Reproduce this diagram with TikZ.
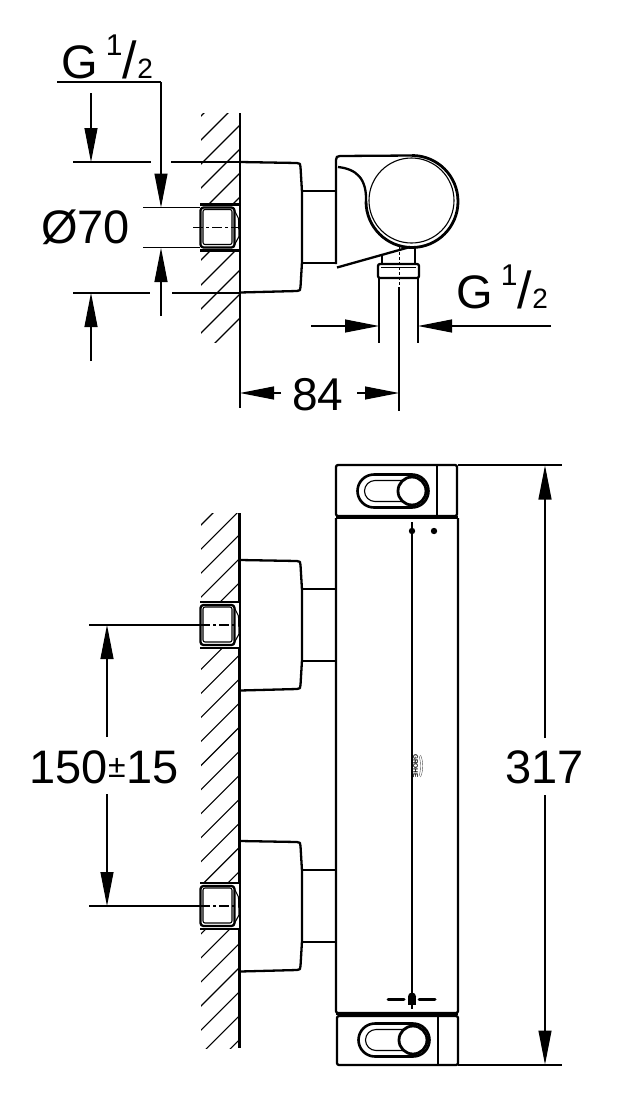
\documentclass[tikz,border=0pt]{standalone}
\usepackage{fontspec}
\setmainfont{Liberation Sans}
\usetikzlibrary{arrows.meta}
\newcommand{\fs}[1]{\fontsize{#1}{#1}\selectfont}
\newcommand{\GThread}{\fs{47}G\hspace{8pt}\raisebox{23pt}{\fs{30}1}\hspace{0.5pt}{\fs{52}/}{\fs{28}2}}
\newcommand{\plugpart}[1]{%
  \begin{scope}[shift={(0,#1)}]
    \fill[white] (200,-23) rectangle (239,23);
    \draw[heavy] (200,-23) -- (239,-23) (200,23) -- (239,23);
    \draw[heavy,rounded corners=3pt] (200.5,-20) rectangle (234.5,20);
    \draw[thinline,rounded corners=2pt] (203,-18) rectangle (232,17);
    \draw[thinline] (233,-20) -- (238.5,-9) -- (239,9) -- (233,20);
  \end{scope}}
\newcommand{\backplate}[1]{%
  \begin{scope}[shift={(0,#1)}]
    \draw[heavy] (240,0) -- (297,1) .. controls (300,1) and (300.5,2) .. (300.5,5)
      -- (302,30) -- (302,100) -- (300.5,125) .. controls (300.5,128) and (300,129) .. (297,129) -- (240,130.5);
    \draw[heavy] (302,29) -- (336,29) (302,101) -- (336,101);
  \end{scope}}
\newcommand{\slotpart}[2]{%
  \begin{scope}[shift={(#1,#2)}]
    \draw[line width=2.6pt] (0,-16.5) -- (-38,-16.5) arc[start angle=270,end angle=90,radius=16.5] -- (0,16.5) arc[start angle=90,end angle=-90,radius=16.5];
    \draw[thinline] (0,-10.5) -- (-37,-10.5) arc[start angle=270,end angle=90,radius=10.5] -- (-5,10.5);
    \draw[line width=2.8pt,fill=white] (0,0) circle[radius=14];
  \end{scope}}
\tikzset{
  heavy/.style={line width=2.3pt,black,line join=round},
  thinline/.style={line width=1.1pt,black,line join=round},
  dimline/.style={line width=1.1pt,black},
  arrowline/.style={dimline,-{Stealth[length=34pt,width=13pt,inset=0pt]}},
  centreline/.style={line width=1.1pt,black,dash pattern=on 10pt off 3pt on 3pt off 3pt},
  label/.style={inner sep=0pt,anchor=base west,text=black},
}
\begin{document}
\begin{tikzpicture}[x=1pt,y=-1pt]
\useasboundingbox (0,0) rectangle (616,1100);
\fill[white] (0,0) rectangle (616,1100);

% ---------- hatching
\begin{scope}
  \clip (201,113) rectangle (239,342);
  \foreach \s in {317,341,365,389,413,437,461,486,510,534,558}
    \draw[thinline] (200,\s-200) -- (240,\s-240);
\end{scope}
\begin{scope}
  \clip (201,513) rectangle (239,1048);
  \foreach \k in {0,...,23}
    \draw[thinline] (200,726+24.05*\k-200) -- (240,726+24.05*\k-240);
\end{scope}

% ---------- TOP VIEW
\draw[line width=2.4pt] (240,113) -- (240,342);
\draw[dimline] (240,342) -- (240,408);
\plugpart{227.5}
\draw[centreline] (193,227.5) -- (239,227.5);
\backplate{162}

% handle
\draw[heavy] (336,264) -- (336,160) .. controls (336,157) and (337,156) .. (340,156) -- (412,155.5);
\draw[heavy] (338,167) .. controls (356,169) and (367,178) .. (366,202);
\draw[line width=2.8pt] (412,155.5) arc[start angle=270,end angle=540,radius=46];
\draw[thinline] (411.5,200.5) circle[radius=42.5];
\draw[heavy] (337,267.5) -- (410,247);
% neck and nut
\draw[heavy] (382,256) -- (382,263) (415,247) -- (415,263);
\draw[heavy,rounded corners=2pt] (378,264) rectangle (419,278);
\draw[thinline] (381,267.5) -- (416,267.5);

% top-view dimensions
\draw[dimline] (57,82) -- (161,82);
\draw[arrowline] (161,82) -- (161,207.5);
\draw[dimline] (143,207.5) -- (200,207.5);
\draw[dimline] (143,247.5) -- (200,247.5);
\draw[arrowline] (161,316) -- (161,248);
\draw[dimline] (73,162) -- (151,162) (171,162) -- (240,162);
\draw[dimline] (73,293) -- (150,293) (172,293) -- (240,293);
\draw[arrowline] (91,93) -- (91,162);
\draw[arrowline] (91,361) -- (91,293);
\draw[line width=.8pt,dash pattern=on 3pt off 2pt] (399,247) -- (399,287);
\draw[dimline] (399,287) -- (399,411);
\draw[dimline] (379,278) -- (379,343) (418,278) -- (418,343);
\draw[arrowline] (311,326) -- (379,326);
\draw[arrowline] (551,326) -- (418,326);
\draw[arrowline] (281,393) -- (240,393);
\draw[arrowline] (357,393) -- (399,393);

\node[label] (gtop) at (61,78) {\GThread};
\node[label] (gside) at (456,308) {\GThread};
\node[label] (d70) at (41,243) {\fs{47}Ø70};
\node[label] (d84) at (292,410) {\fs{46}84};

% ---------- FRONT VIEW
\draw[line width=2.4pt] (239.5,513) -- (239.5,1048);
\plugpart{625}
\plugpart{906}
\draw[centreline] (200,625) -- (237,625);
\draw[centreline] (200,906) -- (237,906);
\backplate{560}
\backplate{841}

% main body and caps
\draw[heavy,rounded corners=2pt] (336,518) -- (336,1013) -- (458,1013) -- (458,518);
\draw[line width=3.2pt] (336,517.5) -- (458,517.5);
\draw[line width=3.2pt] (336,1013.5) -- (458,1013.5);
\draw[heavy,rounded corners=2pt] (336,516) -- (336,465) -- (457,465) -- (457,516) -- cycle;
\draw[heavy,rounded corners=2pt] (337,1016) -- (337,1065) -- (458,1065) -- (458,1016) -- cycle;
\draw[heavy] (437,465) -- (437,516);
\draw[heavy] (438,1016) -- (438,1065);
\slotpart{412}{491}
\slotpart{413}{1040}

% centre axis, dots, marker
\draw[dimline] (412,522) -- (412,1009);
\fill (412,531) circle[radius=3.2];
\fill (434,531) circle[radius=3.2];
\fill (412,996.5) circle[radius=4];
\fill (408,997) rectangle (416,1005);
\draw[line width=3pt,line cap=round] (388,999.5) -- (404,999.5) (419,999.5) -- (435,999.5);

% logo
\node[inner sep=0pt,rotate=-90,text=black] (logo) at (415.5,766) {\fs{6.5}\bfseries GROHE};
\draw[line width=.4pt,black!70] (419,756) .. controls (421,761) and (421,771) .. (419,776);
\draw[line width=.4pt,black!70] (420.5,755) .. controls (423.5,761) and (423.5,771) .. (420.5,777);

% front-view dimensions
\draw[dimline] (89,625) -- (200,625) (89,906) -- (200,906);
\draw[arrowline] (107,737) -- (107,625);
\draw[arrowline] (107,794) -- (107,906);
\draw[dimline] (458,465) -- (562,465) (458,1065) -- (562,1065);
\draw[arrowline] (545,738) -- (545,465.5);
\draw[arrowline] (545,795) -- (545,1064.5);

\node[label] (d150) at (29,783) {\fs{47}150\hspace{0.5pt}\raisebox{6pt}{\fs{32}±}\hspace{0.5pt}15};
\node[label] (d317) at (505.5,783) {\fs{47}317};
\end{tikzpicture}
\end{document}
